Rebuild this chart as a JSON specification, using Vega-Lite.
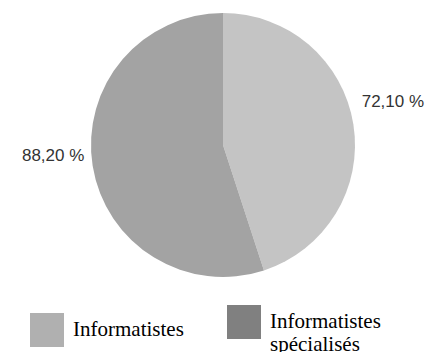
{
  "$schema": "https://vega.github.io/schema/vega-lite/v6.json",
  "width": 404,
  "height": 290,
  "autosize": {"type": "none"},
  "padding": {"left": 21, "top": 0, "right": 0, "bottom": 62},
  "background": "white",
  "config": {"view": {"stroke": null}},
  "data": {"values": [
    {"category": "Informatistes", "value": 72.10, "label": "72,10 %"},
    {"category": "Informatistes spécialisés", "value": 88.20, "label": "88,20 %"}
  ]},
  "encoding": {
    "theta": {"field": "value", "type": "quantitative", "stack": true}
  },
  "layer": [
    {
      "mark": {"type": "arc", "outerRadius": 132},
      "encoding": {
        "color": {
          "field": "category",
          "type": "nominal",
          "scale": {"domain": ["Informatistes", "Informatistes spécialisés"], "range": ["#c4c4c4", "#a3a3a3"]},
          "legend": null
        }
      }
    },
    {
      "mark": {"type": "text", "radius": 172, "dy": -16, "font": "Liberation Sans", "fontSize": 17, "fill": "#333333"},
      "encoding": {
        "text": {"field": "label"}
      }
    },
    {
      "mark": {"type": "text", "text": ""},
      "encoding": {
        "color": {
          "field": "category",
          "type": "nominal",
          "scale": {"domain": ["Informatistes", "Informatistes spécialisés"], "range": ["#b0b0b0", "#808080"]},
          "legend": {
            "orient": "none",
            "legendX": 9,
            "legendY": 305,
            "direction": "horizontal",
            "title": null,
            "symbolType": "square",
            "symbolSize": 1156,
            "symbolStrokeWidth": 0,
            "symbolOpacity": 1,
            "labelFont": "Liberation Serif",
            "labelFontSize": 21,
            "labelColor": "black",
            "labelOffset": 9,
            "columnPadding": 43,
            "labelLimit": 300,
            "labelExpr": "datum.label == 'Informatistes spécialisés' ? ['Informatistes', 'spécialisés'] : datum.label"
          }
        }
      }
    }
  ],
  "resolve": {"scale": {"color": "independent"}, "legend": {"color": "independent"}}
}
